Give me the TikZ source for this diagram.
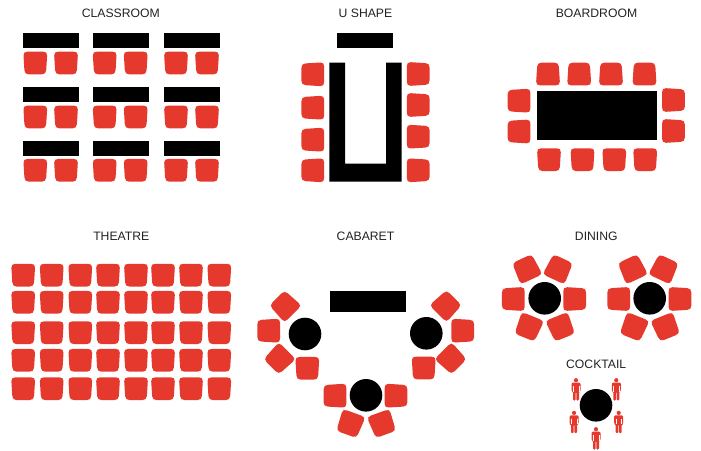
\documentclass[tikz,border=0pt]{standalone}
\usepackage{fontspec}
\setmainfont{Liberation Sans}
\definecolor{seatred}{HTML}{E5392D}
\definecolor{inkdark}{HTML}{222222}
\tikzset{
  x=1pt,y=1pt,
  seatfill/.style={fill=seatred},
  tablefill/.style={fill=black},
  title/.style={text=inkdark,font=\fontsize{12.2}{14}\selectfont,inner sep=0pt,anchor=center},
}
% centre x, centre y (pixels from top), rotation: wide edge faces the table
\newcommand{\seat}[3]{\fill[seatfill,shift={(#1,450-#2)},rotate=#3]
  (-7.6,11.4)--(7.6,11.4) .. controls (10.6,11.4) and (11.9,10.2) .. (11.8,7.4)
  --(10.9,-7.2) .. controls (10.7,-10) and (9.2,-11.4) .. (6.4,-11.4)
  --(-6.4,-11.4) .. controls (-9.2,-11.4) and (-10.7,-10) .. (-10.9,-7.2)
  --(-11.8,7.4) .. controls (-11.9,10.2) and (-10.6,11.4) .. (-7.6,11.4)--cycle;}
\newcommand{\tabl}[4]{\fill[tablefill] (#1,450-#2) rectangle (#3,450-#4);}
\newcommand{\roundtab}[2]{\fill[black] (#1,450-#2) circle (16.3);}
\newcommand{\person}[2]{\begin{scope}[shift={(#1,450-#2)}]
  \fill[seatred] (0,9.1) circle (2.1);
  \fill[seatred,rounded corners=1.1pt] (-4.5,6.6)--(4.5,6.6)--(4.5,-2.2)--(3,-2.2)--(3,-11.2)--(0.35,-11.2)--(0.35,-2.5)--(-0.35,-2.5)--(-0.35,-11.2)--(-3,-11.2)--(-3,-2.2)--(-4.5,-2.2)--cycle;
  \draw[white,line width=0.45pt] (-2.9,3.4)--(-2.9,-2.4) (2.9,3.4)--(2.9,-2.4);
\end{scope}}
\begin{document}
\begin{tikzpicture}
\useasboundingbox (0,0) rectangle (701,450);
% titles
\node[title] (tclass) at (120.8,450-13) {CLASSROOM};
\node[title] (tushape) at (365.5,450-13) {U SHAPE};
\node[title] (tboard) at (596.5,450-13) {BOARDROOM};
\node[title] (ttheatre) at (121.3,450-236.7) {THEATRE};
\node[title] (tcabaret) at (365.5,450-236.7) {CABARET};
\node[title] (tdining) at (596.3,450-236.7) {DINING};
\node[title] (tcocktail) at (596.2,450-364.3) {COCKTAIL};
% classroom
\foreach \a/\b in {23.3/79.3,93/148.7,164.3/220}{
  \foreach \c/\d in {33.3/48.3,87.3/102,141/155.7}{
    \tabl{\a}{\c}{\b}{\d}}}
\foreach \sx in {35.3,66,104.7,135.7,176,207}{
  \foreach \sy in {63,117,170.3}{
    \seat{\sx}{\sy}{0}}}
% u shape
\tabl{337.3}{33.3}{393}{48.3}
\fill[tablefill] (329.3,450-62.7)--(345,450-62.7)--(345,450-163.7)--(386,450-163.7)--(386,450-62.7)--(401.7,450-62.7)--(401.7,450-181.7)--(329.3,450-181.7)--cycle;
\foreach \sy in {74.3,107.7,139.7,170.3}{\seat{312.8}{\sy}{-90}}
\foreach \sy in {74,105,136.7,170.3}{\seat{418.2}{\sy}{90}}
% boardroom
\tabl{537}{91}{656.7}{140}
\foreach \sx in {548,579.2,611,644.5}{\seat{\sx}{74}{180}}
\foreach \sx in {549,582.5,614.3,645.2}{\seat{\sx}{159.7}{0}}
\foreach \sy in {100.7,131.5}{\seat{519}{\sy}{-90}}
\foreach \sy in {100,131}{\seat{673.5}{\sy}{90}}
% theatre
\foreach \sx in {23.2,51.7,80.3,108,136,163,191,219.3}{
  \foreach \sy in {275.2,302.3,332.7,360.3,388.7}{
    \seat{\sx}{\sy}{0}}}
% cabaret
\tabl{330}{291.3}{405.7}{311.7}
\roundtab{305}{334}
\roundtab{426.3}{333.3}
\roundtab{366}{395.3}
\seat{285}{306}{-135}
\seat{268.7}{330.7}{-90}
\seat{279.3}{358.7}{-45}
\seat{307.3}{368.3}{0}
\seat{446}{305.7}{135}
\seat{462.7}{330.7}{90}
\seat{451}{358.7}{45}
\seat{423.7}{368}{0}
\seat{335}{395.7}{-90}
\seat{396}{395.7}{90}
\seat{350.3}{423.7}{-20}
\seat{382}{423.7}{20}
% dining
\roundtab{544.7}{298.3}
\roundtab{649.7}{298.3}
\seat{526.7}{269}{-155}
\seat{558.3}{269}{155}
\seat{513.3}{299}{-90}
\seat{574.7}{299}{90}
\seat{528.7}{327}{-22}
\seat{560.7}{327}{22}
\seat{632.3}{269}{-155}
\seat{664}{269}{155}
\seat{618.7}{299}{-90}
\seat{680}{299}{90}
\seat{634}{327}{-22}
\seat{665.7}{327}{22}
% cocktail
\roundtab{596}{405.3}
\person{576}{389.3}
\person{616.3}{389.3}
\person{574}{422}
\person{618.7}{422}
\person{596}{438.3}
\end{tikzpicture}
\end{document}
